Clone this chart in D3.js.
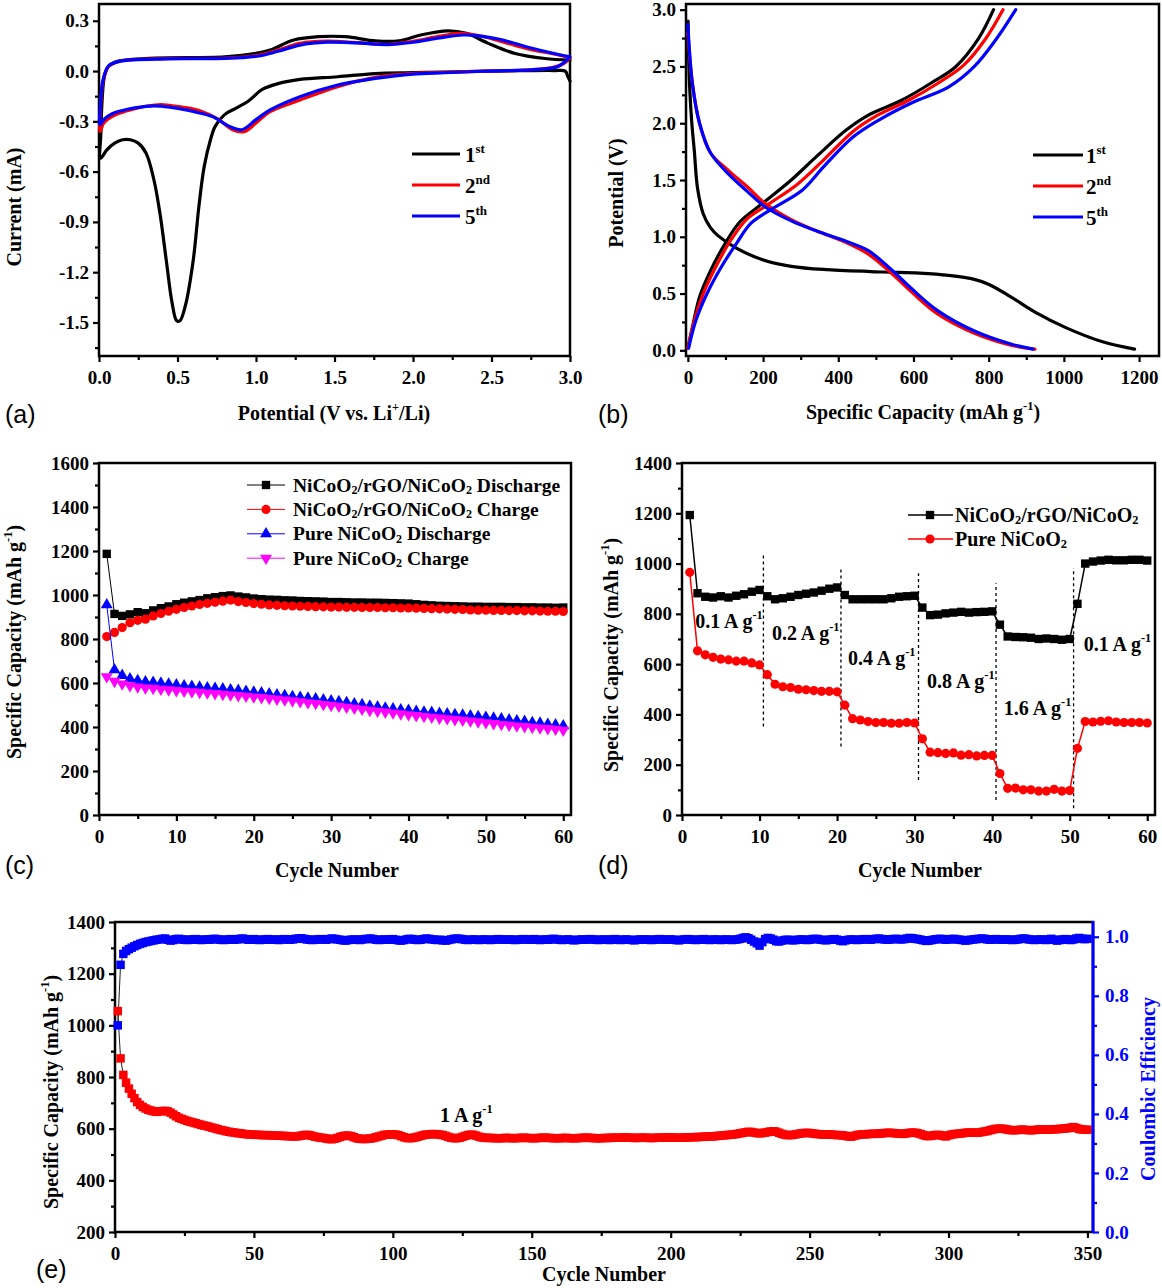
<!DOCTYPE html>
<html>
<head>
<meta charset="utf-8">
<script src="https://cdn.jsdelivr.net/npm/d3@7"></script>
<style>
  body { margin: 0; background: #fff; }
</style>
</head>
<body>
<svg id="fig" width="1162" height="1288"></svg>
<script>
// ---------------- data ----------------
// (a) cyclic voltammetry, [potential (V), current (mA)]
const cvFirst = [[3.0,-0.06],[2.985,-0.03],[2.97,0.0],[2.9,0.003],[2.7,0.002],[2.48,0.0],[2.2,-0.006],[2.0,-0.01],[1.76,-0.015],[1.52,-0.034],[1.28,-0.05],[1.14,-0.075],[1.04,-0.11],[0.95,-0.18],[0.876,-0.22],[0.8,-0.26],[0.74,-0.33],[0.71,-0.41],[0.67,-0.57],[0.636,-0.81],[0.6,-1.13],[0.55,-1.4],[0.515,-1.49],[0.495,-1.49],[0.465,-1.38],[0.43,-1.14],[0.39,-0.86],[0.35,-0.65],[0.3,-0.49],[0.25,-0.43],[0.2,-0.41],[0.15,-0.41],[0.1,-0.43],[0.05,-0.47],[0.01,-0.52],
  [0.012,-0.37],[0.02,-0.17],[0.035,-0.03],[0.06,0.027],[0.108,0.056],[0.32,0.076],[0.8,0.085],[1.0,0.105],[1.09,0.125],[1.24,0.185],[1.4,0.205],[1.57,0.205],[1.76,0.18],[1.91,0.18],[2.05,0.215],[2.22,0.24],[2.34,0.225],[2.48,0.165],[2.65,0.105],[2.84,0.075],[3.0,0.065]];
const cvSecond = [[3.0,0.078],[2.96,0.045],[2.88,0.02],[2.7,0.006],[2.48,0.0],[2.2,-0.008],[2.0,-0.014],[1.76,-0.038],[1.52,-0.093],[1.28,-0.173],[1.09,-0.242],[1.0,-0.31],[0.924,-0.362],[0.85,-0.35],[0.756,-0.285],[0.65,-0.24],[0.564,-0.22],[0.45,-0.205],[0.396,-0.2],[0.3,-0.21],[0.228,-0.225],[0.15,-0.245],[0.084,-0.27],[0.03,-0.31],[0.007,-0.36],
  [0.009,-0.23],[0.024,-0.07],[0.06,0.027],[0.13,0.058],[0.44,0.075],[0.8,0.077],[1.02,0.095],[1.14,0.125],[1.28,0.165],[1.45,0.178],[1.64,0.17],[1.84,0.16],[2.0,0.178],[2.17,0.208],[2.3,0.225],[2.4,0.215],[2.55,0.18],[2.72,0.135],[2.92,0.097],[3.0,0.078]];
const cvFifth = [[3.0,0.085],[2.96,0.05],[2.92,0.026],[2.8,0.01],[2.48,0.0],[2.2,-0.01],[2.0,-0.018],[1.76,-0.044],[1.52,-0.083],[1.28,-0.153],[1.09,-0.232],[1.0,-0.29],[0.91,-0.35],[0.83,-0.33],[0.73,-0.275],[0.64,-0.25],[0.564,-0.233],[0.45,-0.215],[0.35,-0.208],[0.228,-0.22],[0.15,-0.235],[0.084,-0.255],[0.03,-0.29],[0.007,-0.32],
  [0.009,-0.21],[0.024,-0.06],[0.06,0.03],[0.13,0.058],[0.44,0.073],[0.8,0.075],[1.02,0.09],[1.14,0.118],[1.28,0.155],[1.45,0.172],[1.64,0.168],[1.84,0.158],[2.0,0.172],[2.17,0.198],[2.32,0.215],[2.42,0.21],[2.55,0.19],[2.72,0.145],[2.92,0.1],[3.0,0.085]];
const cvXTicks = [0, 0.5, 1.0, 1.5, 2.0, 2.5, 3.0];
const cvXMinor = [0.25, 0.75, 1.25, 1.75, 2.25, 2.75];
const cvYTicks = [-1.5, -1.2, -0.9, -0.6, -0.3, 0.0, 0.3];
const cvYMinor = [-1.65, -1.35, -1.05, -0.75, -0.45, -0.15, 0.15];

// (b) charge/discharge profiles, [capacity (mAh/g), potential (V)]
const gcDis1 = [[0.5,2.9],[2,2.6],[5,2.3],[10,2.02],[17,1.76],[26,1.42],[41,1.2],[60,1.08],[80,1.01],[129,0.9],[197,0.8],[275,0.74],[372,0.71],[518,0.69],[616,0.68],[694,0.66],[762,0.625],[801,0.58],[859,0.47],[927,0.33],[1005,0.2],[1103,0.075],[1188,0.01]];
const gcCha1 = [[0,0.02],[12,0.2],[31,0.47],[60,0.7],[99,0.94],[138,1.13],[197,1.29],[275,1.5],[343,1.71],[421,1.94],[479,2.07],[567,2.2],[645,2.35],[713,2.5],[772,2.74],[813,3.0]];
const gcDis2 = [[0,2.8],[12,2.35],[31,2.0],[60,1.74],[109,1.58],[158,1.44],[207,1.29],[275,1.15],[343,1.05],[421,0.95],[479,0.85],[538,0.69],[596,0.51],[664,0.32],[762,0.15],[859,0.045],[923,0.01]];
const gcCha2 = [[0,0.02],[17,0.26],[41,0.5],[75,0.74],[114,0.97],[158,1.16],[216,1.29],[294,1.47],[362,1.68],[440,1.93],[499,2.06],[586,2.2],[664,2.35],[733,2.51],[791,2.74],[838,3.0]];
const gcDis5 = [[0,2.87],[12,2.35],[31,2.0],[60,1.74],[109,1.55],[158,1.4],[207,1.26],[275,1.14],[343,1.05],[421,0.96],[479,0.88],[538,0.72],[596,0.54],[664,0.35],[762,0.17],[859,0.055],[918,0.01]];
const gcCha5 = [[2,0.02],[21,0.26],[51,0.5],[90,0.74],[129,0.94],[168,1.12],[226,1.25],[304,1.41],[362,1.62],[440,1.88],[509,2.03],[596,2.18],[694,2.32],[762,2.5],[820,2.74],[872,3.0]];
const gcXTicks = [0, 200, 400, 600, 800, 1000, 1200];
const gcXMinor = [100, 300, 500, 700, 900, 1100];
const gcYTicks = [0, 0.5, 1.0, 1.5, 2.0, 2.5, 3.0];
const gcYMinor = [0.25, 0.75, 1.25, 1.75, 2.25, 2.75];

// (c) cycling at 0.1 A/g, 60 cycles
const compDischarge = [1187,914,905,912,922,917,930,940,948,958, 965,971,977,985,990,995,998,993,989,984, 981,979,978,976,975,973,972,971,970,968, 968,967,966,966,965,965,964,963,962,961, 958,955,953,951,950,949,948,947,947,946, 946,946,945,945,944,944,943,943,942,943];
const compCharge = [811,830,852,874,885,890,905,916,926,935, 943,950,957,962,967,972,977,970,966,961, 958,955,953,951,950,949,948,947,946,945, 945,944,944,943,943,943,942,942,941,941, 940,939,938,937,936,935,934,932,931,931, 930,930,929,929,928,928,927,926,926,925];
const pureDischarge = [955,660,634,619,611,605,603,599,595,591, 587,584,581,578,575,573,569,566,562,558, 555,550,546,543,538,535,531,528,523,519, 515,511,505,501,495,491,486,482,478,475, 471,468,466,462,459,456,454,450,447,444, 440,437,432,428,425,420,417,412,409,405];
const pureCharge = [629,608,596,588,582,578,576,572,569,566, 563,560,558,555,552,549,546,543,540,537, 534,530,527,523,519,515,511,507,503,499, 495,490,486,481,476,472,468,464,460,456, 452,448,445,441,438,434,431,428,424,420, 416,412,409,405,402,399,396,393,390,386];

// (d) rate capability, 60 cycles
const rateComposite = [1193,882,868,865,870,865,872,878,888,895, 870,858,862,868,875,880,885,892,900,905, 875,858,858,858,858,858,862,868,870,872, 825,795,797,802,805,808,805,807,808,810, 757,710,708,707,705,700,702,700,697,700, 840,1000,1008,1012,1015,1013,1013,1015,1015,1012];
const ratePure = [965,653,637,627,620,617,612,612,605,597, 558,520,510,507,500,498,495,492,492,490, 437,383,378,372,368,368,365,365,368,366, 303,250,248,245,247,238,240,235,237,237, 165,106,107,100,100,95,95,102,95,97, 265,372,370,373,375,370,368,368,368,366];
const rateBreaks = [10.5, 20.5, 30.5, 40.5, 50.5];
const rateBreakSpans = [[352,1044],[272,988],[139,962],[60,922],[27,982]];
const rateNotes = [["0.1", 1.7, 744], ["0.2", 11.6, 696], ["0.4", 21.4, 597], ["0.8", 31.6, 505], ["1.6", 41.5, 398], ["0.1", 51.8, 652]];

const cycXTicks = [0, 10, 20, 30, 40, 50, 60];
const cycXMinor = [5, 15, 25, 35, 45, 55];
const capYTicksC = [0, 200, 400, 600, 800, 1000, 1200, 1400, 1600];
const capYMinorC = [100, 300, 500, 700, 900, 1100, 1300, 1500];
const capYTicksD = [0, 200, 400, 600, 800, 1000, 1200, 1400];
const capYMinorD = [100, 300, 500, 700, 900, 1100, 1300];

// (e) long cycling at 1 A/g, 350 cycles
const longCapacity = [1055,872,808,778,755,735,718,703,692,684, 678,673,670,667,665,667,668,669,667,662,
  655,648,642,638,634,630,627,624,621,618, 615,612,610,607,604,601,598,595,593,590,
  588,586,585,583,582,580,579,578,577,577, 576,576,575,575,575,574,574,573,573,572,
  572,571,571,570,570,571,573,575,576,575, 572,569,567,565,564,562,560,559,561,564,
  568,571,573,573,571,567,563,561,560,560, 561,562,564,567,570,573,576,577,578,578,
  577,575,571,567,564,563,564,566,569,572, 575,577,578,579,579,578,577,575,572,568,
  565,563,563,565,568,572,575,577,576,573, 569,566,565,564,564,564,563,563,563,564,
  564,564,563,563,564,564,565,564,564,563, 563,564,564,565,565,564,564,563,563,563,
  564,564,564,563,563,563,564,564,565,565, 564,564,563,563,563,564,564,564,565,565,
  565,565,566,566,565,565,564,564,565,565, 565,564,564,564,565,565,565,566,566,566,
  565,565,565,565,566,566,567,567,567,568, 568,569,569,570,570,571,572,573,574,575,
  576,577,578,580,582,584,586,588,587,585, 583,582,583,585,587,589,590,588,584,580,
  577,575,575,576,578,580,582,583,584,583, 582,580,579,578,577,577,578,577,576,575,
  575,574,572,570,569,572,575,577,578,578, 579,580,580,580,581,582,583,584,584,583,
  582,581,580,580,582,584,585,584,582,579, 575,572,571,573,575,576,575,572,570,574,
  577,579,580,581,582,584,585,585,584,584, 585,587,589,591,594,597,599,600,600,599,
  597,595,594,594,595,596,596,595,594,594, 595,596,597,597,596,596,597,598,598,599,
  600,601,602,604,606,603,599,597,596,596];
const longEfficiency = [0.700,0.905,0.942,0.952,0.958,0.963,0.968,0.972,0.976,0.979, 0.982,0.984,0.986,0.988,0.990,0.991,0.993,0.994,0.990,0.987,
  0.989,0.992,0.993,0.991,0.990,0.989,0.990,0.991,0.992,0.990, 0.989,0.990,0.991,0.990,0.992,0.993,0.991,0.990,0.989,0.990,
  0.991,0.992,0.990,0.991,0.993,0.994,0.992,0.990,0.991,0.992, 0.990,0.989,0.990,0.991,0.992,0.990,0.991,0.990,0.989,0.991,
  0.992,0.991,0.990,0.991,0.993,0.994,0.995,0.993,0.991,0.990, 0.989,0.990,0.991,0.992,0.991,0.990,0.992,0.994,0.993,0.991,
  0.990,0.988,0.987,0.989,0.990,0.991,0.990,0.989,0.991,0.992, 0.993,0.994,0.992,0.990,0.989,0.990,0.991,0.990,0.991,0.992,
  0.990,0.988,0.987,0.989,0.991,0.993,0.992,0.990,0.989,0.990, 0.992,0.994,0.993,0.991,0.990,0.989,0.990,0.988,0.987,0.989,
  0.991,0.993,0.994,0.993,0.992,0.990,0.989,0.990,0.991,0.990, 0.989,0.990,0.991,0.990,0.989,0.990,0.991,0.992,0.991,0.990,
  0.990,0.991,0.990,0.989,0.990,0.991,0.992,0.991,0.990,0.991, 0.992,0.990,0.989,0.990,0.991,0.990,0.992,0.993,0.991,0.990,
  0.989,0.990,0.991,0.990,0.988,0.989,0.990,0.991,0.990,0.991, 0.992,0.991,0.990,0.989,0.990,0.991,0.990,0.989,0.991,0.992,
  0.990,0.989,0.990,0.991,0.990,0.989,0.988,0.990,0.991,0.990, 0.991,0.990,0.989,0.990,0.991,0.992,0.991,0.990,0.990,0.991,
  0.990,0.989,0.988,0.990,0.991,0.992,0.991,0.990,0.989,0.990, 0.991,0.992,0.990,0.989,0.990,0.991,0.990,0.989,0.990,0.991,
  0.990,0.989,0.990,0.991,0.993,0.996,0.998,0.995,0.990,0.984, 0.978,0.970,0.982,0.992,0.996,0.994,0.990,0.985,0.984,0.987,
  0.989,0.990,0.989,0.988,0.989,0.990,0.991,0.990,0.989,0.990, 0.992,0.993,0.992,0.990,0.989,0.988,0.990,0.991,0.992,0.990,
  0.987,0.985,0.988,0.990,0.991,0.990,0.989,0.990,0.991,0.992, 0.991,0.990,0.992,0.993,0.994,0.992,0.991,0.990,0.991,0.992,
  0.993,0.992,0.991,0.992,0.994,0.996,0.995,0.993,0.992,0.990, 0.988,0.986,0.987,0.989,0.991,0.992,0.993,0.992,0.990,0.991,
  0.992,0.993,0.991,0.990,0.989,0.987,0.988,0.990,0.991,0.992, 0.993,0.994,0.993,0.991,0.990,0.991,0.992,0.991,0.990,0.990,
  0.991,0.990,0.989,0.990,0.991,0.993,0.994,0.993,0.991,0.990, 0.989,0.990,0.991,0.990,0.989,0.991,0.993,0.990,0.987,0.989,
  0.991,0.992,0.990,0.989,0.991,0.994,0.996,0.993,0.992,0.993];
const longXTicks = [0, 50, 100, 150, 200, 250, 300, 350];
const longXMinor = [25, 75, 125, 175, 225, 275, 325];
const longYTicks = [200, 400, 600, 800, 1000, 1200, 1400];
const longYMinor = [300, 500, 700, 900, 1100, 1300];
const ceTicks = [0, 0.2, 0.4, 0.6, 0.8, 1.0];
const ceMinor = [0.1, 0.3, 0.5, 0.7, 0.9];

// ---------------- drawing ----------------
const SERIF = "'Liberation Serif','Times New Roman',serif";
const SANS = "'Liberation Sans',Arial,sans-serif";
const TICK_FS = 19, TITLE_FS = 20;
const svg = d3.select("#fig");

// text with sub/superscript parts: [[string, "n"|"sup"|"sub"], ...]
function rich(t, parts, fs) {
  let shift = 0;
  parts.forEach(([s, k]) => {
    const target = k === "sup" ? -0.45 * fs : k === "sub" ? 0.12 * fs : 0;
    t.append("tspan")
      .attr("dy", target - shift)
      .attr("font-size", k === "n" ? fs : 0.62 * fs)
      .text(s);
    shift = target;
  });
  return t;
}

function label(x, y, parts, fs, opts = {}) {
  const t = svg.append("text")
    .attr("font-family", SERIF).attr("font-weight", "bold")
    .attr("font-size", fs)
    .attr("fill", opts.fill || "#000")
    .attr("text-anchor", opts.anchor || "start");
  if (opts.rotate) t.attr("transform", `translate(${x},${y}) rotate(-90)`);
  else t.attr("x", x).attr("y", y);
  return rich(t, parts, fs);
}

function styleAxis(g, fs, color) {
  g.attr("font-family", SERIF).attr("font-weight", "bold").attr("font-size", fs);
  g.select(".domain").remove();
  g.selectAll(".tick line").attr("stroke", color).attr("stroke-width", 2.2);
  g.selectAll(".tick text").attr("fill", color);
}

function drawAxes(x, y, o) {
  const [l, r] = x.range(), [b, t] = y.range();
  const fs = o.fs || TICK_FS;
  const gx = svg.append("g").attr("transform", `translate(0,${b})`);
  gx.call(d3.axisBottom(x).tickValues(o.xMinor).tickSize(4).tickFormat(""));
  styleAxis(gx, fs, "#000");
  const gx2 = svg.append("g").attr("transform", `translate(0,${b})`);
  gx2.call(d3.axisBottom(x).tickValues(o.xMajor).tickSize(6).tickPadding(9).tickFormat(o.xFmt));
  styleAxis(gx2, fs, "#000");
  const gy = svg.append("g").attr("transform", `translate(${l},0)`);
  gy.call(d3.axisLeft(y).tickValues(o.yMinor).tickSize(4).tickFormat(""));
  styleAxis(gy, fs, "#000");
  const gy2 = svg.append("g").attr("transform", `translate(${l},0)`);
  gy2.call(d3.axisLeft(y).tickValues(o.yMajor).tickSize(6).tickPadding(4).tickFormat(o.yFmt));
  styleAxis(gy2, fs, "#000");
  svg.append("rect")
    .attr("x", l).attr("y", t).attr("width", r - l).attr("height", b - t)
    .attr("fill", "none").attr("stroke", "#000").attr("stroke-width", 2.5);
}

function panelLetter(x, y, s) {
  svg.append("text").attr("x", x).attr("y", y)
    .attr("font-family", SANS).attr("font-size", 25).text(s);
}

function markers(data, x, y, type, size, color, flip) {
  svg.append("g").selectAll("path").data(data).join("path")
    .attr("transform", d => `translate(${x(d[0])},${y(d[1])})` + (flip ? " rotate(180)" : ""))
    .attr("d", d3.symbol(type, size))
    .attr("fill", color);
}

function polyline(data, x, y, color, width, curve) {
  const gen = d3.line().x(d => x(d[0])).y(d => y(d[1]));
  if (curve) gen.curve(curve);
  svg.append("path").datum(data)
    .attr("d", gen).attr("fill", "none")
    .attr("stroke", color).attr("stroke-width", width)
    .attr("stroke-linejoin", "round").attr("stroke-linecap", "round");
}

const fmt1 = d => d.toFixed(1);
const fmt0 = d3.format("d");
const smooth = d3.curveCatmullRom.alpha(0.5);
const ordinals = [["1", "st"], ["2", "nd"], ["5", "th"]];
const cycleColors = ["#000000", "#ff0000", "#0000ff"];

// ------ (a) CV ------
const xA = d3.scaleLinear().domain([0, 3]).range([99, 570]);
const yA = d3.scaleLinear().domain([-1.7, 0.4]).range([356, 4]);
drawAxes(xA, yA, {xMajor: cvXTicks, xMinor: cvXMinor, yMajor: cvYTicks, yMinor: cvYMinor, xFmt: fmt1, yFmt: fmt1});
[cvFirst, cvSecond, cvFifth].forEach((d, i) => polyline(d, xA, yA, cycleColors[i], 3.2, smooth));
ordinals.forEach(([n, s], i) => {
  const yy = 154 + i * 31;
  svg.append("line").attr("x1", 412).attr("x2", 460).attr("y1", yy).attr("y2", yy)
    .attr("stroke", cycleColors[i]).attr("stroke-width", 3.2);
  label(465, yy + 8, [[n, "n"], [s, "sup"]], 21);
});
label(21, 207, [["Current (mA)", "n"]], TITLE_FS, {anchor: "middle", rotate: true});
label(334, 420, [["Potential (V vs. Li", "n"], ["+", "sup"], ["/Li)", "n"]], TITLE_FS, {anchor: "middle"});
panelLetter(5, 423, "(a)");

// ------ (b) galvanostatic profiles ------
const xB = d3.scaleLinear().domain([-5, 1253]).range([686, 1159]);
const yB = d3.scaleLinear().domain([-0.05, 3.05]).range([356, 4]);
drawAxes(xB, yB, {xMajor: gcXTicks, xMinor: gcXMinor, yMajor: gcYTicks, yMinor: gcYMinor, xFmt: fmt0, yFmt: fmt1});
[[gcDis1, gcCha1], [gcDis2, gcCha2], [gcDis5, gcCha5]].forEach((pair, i) => {
  pair.forEach(d => polyline(d, xB, yB, cycleColors[i], 3.2, smooth));
});
ordinals.forEach(([n, s], i) => {
  const yy = 155 + i * 31;
  svg.append("line").attr("x1", 1033).attr("x2", 1083).attr("y1", yy).attr("y2", yy)
    .attr("stroke", cycleColors[i]).attr("stroke-width", 3.2);
  label(1086, yy + 8, [[n, "n"], [s, "sup"]], 21);
});
label(623, 193, [["Potential (V)", "n"]], TITLE_FS, {anchor: "middle", rotate: true});
label(923, 419, [["Specific Capacity (mAh g", "n"], ["-1", "sup"], [")", "n"]], TITLE_FS, {anchor: "middle"});
panelLetter(598, 423, "(b)");

// ------ (c) cycling performance ------
const cycles = d3.range(1, 61);
const xC = d3.scaleLinear().domain([0, 61]).range([99, 571]);
const yC = d3.scaleLinear().domain([0, 1600]).range([815, 463]);
drawAxes(xC, yC, {xMajor: cycXTicks, xMinor: cycXMinor, yMajor: capYTicksC, yMinor: capYMinorC, xFmt: fmt0, yFmt: fmt0});
const compName = [["NiCoO", "n"], ["2", "sub"], ["/rGO/NiCoO", "n"], ["2", "sub"]];
const pureName = [["Pure NiCoO", "n"], ["2", "sub"]];
const seriesC = [
  {v: compDischarge, color: "#000000", sym: d3.symbolSquare, size: 70, flip: false, name: compName.concat([[" Discharge", "n"]])},
  {v: compCharge, color: "#ff0000", sym: d3.symbolCircle, size: 66, flip: false, name: compName.concat([[" Charge", "n"]])},
  {v: pureDischarge, color: "#0000ff", sym: d3.symbolTriangle, size: 62, flip: false, name: pureName.concat([[" Discharge", "n"]])},
  {v: pureCharge, color: "#ff00ff", sym: d3.symbolTriangle, size: 62, flip: true, name: pureName.concat([[" Charge", "n"]])}
];
seriesC.forEach(s => {
  const pts = d3.zip(cycles, s.v);
  polyline(pts, xC, yC, s.color, 1);
  markers(pts, xC, yC, s.sym, s.size, s.color, s.flip);
});
seriesC.forEach((s, i) => {
  const yy = 485 + i * 24.4;
  svg.append("line").attr("x1", 247).attr("x2", 285).attr("y1", yy).attr("y2", yy)
    .attr("stroke", s.color).attr("stroke-width", 1);
  svg.append("path").attr("transform", `translate(266,${yy})` + (s.flip ? " rotate(180)" : ""))
    .attr("d", d3.symbol(s.sym, s.size)).attr("fill", s.color);
  label(293, yy + 6.5, s.name, 19.5);
});
label(21, 642, [["Specific Capacity (mAh g", "n"], ["-1", "sup"], [")", "n"]], TITLE_FS, {anchor: "middle", rotate: true});
label(337, 877, [["Cycle Number", "n"]], TITLE_FS, {anchor: "middle"});
panelLetter(5, 874, "(c)");

// ------ (d) rate capability ------
const xD = d3.scaleLinear().domain([0, 61]).range([682, 1155]);
const yD = d3.scaleLinear().domain([0, 1400]).range([815, 463]);
drawAxes(xD, yD, {xMajor: cycXTicks, xMinor: cycXMinor, yMajor: capYTicksD, yMinor: capYMinorD, xFmt: fmt0, yFmt: fmt0});
rateBreaks.forEach((c, i) => {
  svg.append("line")
    .attr("x1", xD(c)).attr("x2", xD(c))
    .attr("y1", yD(rateBreakSpans[i][0])).attr("y2", yD(rateBreakSpans[i][1]))
    .attr("stroke", "#000").attr("stroke-width", 1.3).attr("stroke-dasharray", "3,3");
});
const seriesD = [
  {v: rateComposite, color: "#000000", sym: d3.symbolSquare, size: 70, name: compName},
  {v: ratePure, color: "#ff0000", sym: d3.symbolCircle, size: 66, name: pureName}
];
seriesD.forEach(s => {
  const pts = d3.zip(cycles, s.v);
  polyline(pts, xD, yD, s.color, 1.5);
  markers(pts, xD, yD, s.sym, s.size, s.color, false);
});
seriesD.forEach((s, i) => {
  const yy = 515 + i * 24;
  svg.append("line").attr("x1", 908).attr("x2", 953).attr("y1", yy).attr("y2", yy)
    .attr("stroke", s.color).attr("stroke-width", 1.5);
  svg.append("path").attr("transform", `translate(930,${yy})`)
    .attr("d", d3.symbol(s.sym, s.size)).attr("fill", s.color);
  label(955, yy + 7, s.name, 20);
});
rateNotes.forEach(([rate, c, v]) => {
  label(xD(c), yD(v), [[rate + " A g", "n"], ["-1", "sup"]], 20);
});
label(618, 655, [["Specific Capacity (mAh g", "n"], ["-1", "sup"], [")", "n"]], TITLE_FS, {anchor: "middle", rotate: true});
label(920, 877, [["Cycle Number", "n"]], TITLE_FS, {anchor: "middle"});
panelLetter(598, 874, "(d)");

// ------ (e) long-term cycling ------
const longCycles = d3.range(1, 351);
const xE = d3.scaleLinear().domain([0, 352]).range([115, 1093]);
const yE = d3.scaleLinear().domain([200, 1400]).range([1232, 922]);
const yE2 = d3.scaleLinear().domain([0, 1.05]).range([1232, 922]);
drawAxes(xE, yE, {xMajor: longXTicks, xMinor: longXMinor, yMajor: longYTicks, yMinor: longYMinor, xFmt: fmt0, yFmt: fmt0});
const capPts = d3.zip(longCycles, longCapacity);
const cePts = d3.zip(longCycles, longEfficiency);
polyline(capPts, xE, yE, "#222", 1);
polyline(cePts, xE, yE2, "#222", 1);
markers(capPts, xE, yE, d3.symbolSquare, 72, "#ff0000", false);
markers(cePts, xE, yE2, d3.symbolSquare, 72, "#0000ff", false);
// right axis (blue)
const gr = svg.append("g").attr("transform", `translate(1093,0)`);
gr.call(d3.axisRight(yE2).tickValues(ceMinor).tickSize(4).tickFormat(""));
styleAxis(gr, TICK_FS, "#0000ff");
const gr2 = svg.append("g").attr("transform", `translate(1093,0)`);
gr2.call(d3.axisRight(yE2).tickValues(ceTicks).tickSize(6).tickPadding(6).tickFormat(fmt1));
styleAxis(gr2, TICK_FS, "#0000ff");
svg.append("line").attr("x1", 1093).attr("x2", 1093).attr("y1", 921).attr("y2", 1233)
  .attr("stroke", "#0000ff").attr("stroke-width", 3);
label(xE(117), yE(626), [["1 A g", "n"], ["-1", "sup"]], 20);
label(58, 1092, [["Specific Capacity (mAh g", "n"], ["-1", "sup"], [")", "n"]], TITLE_FS, {anchor: "middle", rotate: true});
label(1155, 1089, [["Coulombic Efficiency", "n"]], TITLE_FS, {anchor: "middle", rotate: true, fill: "#0000ff"});
label(604, 1281, [["Cycle Number", "n"]], TITLE_FS, {anchor: "middle"});
panelLetter(36, 1278, "(e)");
</script>
</body>
</html>
